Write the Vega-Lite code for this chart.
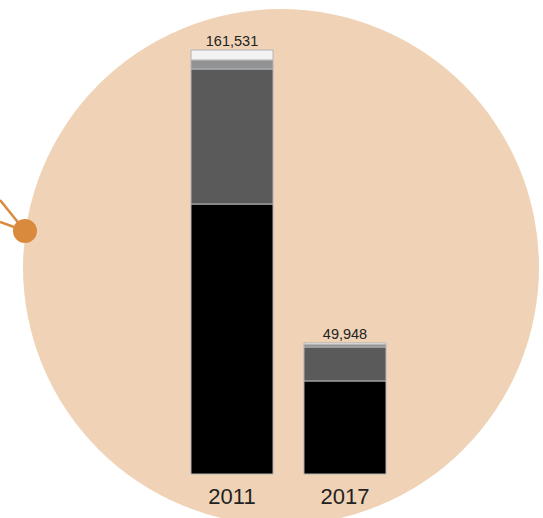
{
  "$schema": "https://vega.github.io/schema/vega-lite/v6.json",
  "width": 543,
  "height": 474,
  "autosize": {"type": "none"},
  "padding": {"left": 0, "top": 0, "right": 0, "bottom": 44},
  "background": "white",
  "config": {"view": {"stroke": null}, "font": "Liberation Sans"},
  "datasets": {
    "bars": [
      {"year": "2011", "category": "A", "value": 102862},
      {"year": "2011", "category": "B", "value": 51431},
      {"year": "2011", "category": "C", "value": 3429},
      {"year": "2011", "category": "D", "value": 3809},
      {"year": "2017", "category": "A", "value": 35450},
      {"year": "2017", "category": "B", "value": 12950},
      {"year": "2017", "category": "C", "value": 1000},
      {"year": "2017", "category": "D", "value": 548}
    ],
    "decor": [{"item": "background"}]
  },
  "layer": [
    {
      "data": {"name": "decor"},
      "mark": {"type": "point", "filled": true, "shape": "circle", "size": 266256, "color": "#f0d3b6", "opacity": 1, "strokeWidth": 0},
      "encoding": {
        "x": {"datum": 0.5175, "type": "quantitative", "scale": {"domain": [0, 1], "nice": false, "zero": false}, "axis": null},
        "y": {"datum": 78861, "type": "quantitative", "scale": {"domain": [0, 180580], "nice": false}, "axis": null}
      }
    },
    {
      "data": {"name": "decor"},
      "mark": {"type": "rule", "color": "#d98a3c", "strokeWidth": 2.5},
      "encoding": {
        "x": {"datum": 0, "type": "quantitative", "scale": {"domain": [0, 1], "nice": false, "zero": false}, "axis": null},
        "x2": {"datum": 0.046},
        "y": {"datum": 104386, "type": "quantitative", "scale": {"domain": [0, 180580], "nice": false}, "axis": null},
        "y2": {"datum": 92576}
      }
    },
    {
      "data": {"name": "decor"},
      "mark": {"type": "rule", "color": "#d98a3c", "strokeWidth": 2.5},
      "encoding": {
        "x": {"datum": 0, "type": "quantitative", "scale": {"domain": [0, 1], "nice": false, "zero": false}, "axis": null},
        "x2": {"datum": 0.046},
        "y": {"datum": 96004, "type": "quantitative", "scale": {"domain": [0, 180580], "nice": false}, "axis": null},
        "y2": {"datum": 92576}
      }
    },
    {
      "data": {"name": "decor"},
      "mark": {"type": "point", "filled": true, "shape": "circle", "size": 576, "color": "#d98a3c", "opacity": 1, "strokeWidth": 0},
      "encoding": {
        "x": {"datum": 0.046, "type": "quantitative", "scale": {"domain": [0, 1], "nice": false, "zero": false}, "axis": null},
        "y": {"datum": 92576, "type": "quantitative", "scale": {"domain": [0, 180580], "nice": false}, "axis": null}
      }
    },
    {
      "data": {"name": "bars"},
      "encoding": {
        "x": {
          "field": "year", "type": "nominal",
          "scale": {"type": "band", "range": [191, 386], "paddingInner": 0.274, "paddingOuter": 0},
          "axis": null
        }
      },
      "layer": [
        {
          "mark": {"type": "bar", "stroke": "#b4b4b4", "strokeWidth": 1},
          "encoding": {
            "y": {"field": "value", "type": "quantitative", "aggregate": "sum", "stack": "zero", "scale": {"domain": [0, 180580], "nice": false}, "axis": null},
            "color": {"field": "category", "type": "nominal", "scale": {"domain": ["A", "B", "C", "D"], "range": ["#000000", "#5a5a5a", "#909294", "#f3f3f3"]}, "legend": null},
            "order": {"field": "category", "sort": "ascending"}
          }
        },
        {
          "transform": [{"aggregate": [{"op": "sum", "field": "value", "as": "total"}], "groupby": ["year"]}],
          "mark": {"type": "text", "baseline": "alphabetic", "dy": -4, "fontSize": 14.5, "color": "#222222"},
          "encoding": {
            "y": {"field": "total", "type": "quantitative", "scale": {"domain": [0, 180580], "nice": false}, "axis": null},
            "text": {"field": "total", "type": "quantitative", "format": ","}
          }
        },
        {
          "transform": [{"aggregate": [{"op": "count", "as": "n"}], "groupby": ["year"]}],
          "mark": {"type": "text", "baseline": "alphabetic", "dy": 30, "fontSize": 22, "color": "#222222"},
          "encoding": {
            "y": {"datum": 0, "type": "quantitative", "scale": {"domain": [0, 180580], "nice": false}, "axis": null},
            "text": {"field": "year", "type": "nominal"}
          }
        }
      ]
    }
  ],
  "resolve": {"scale": {"x": "independent"}}
}
